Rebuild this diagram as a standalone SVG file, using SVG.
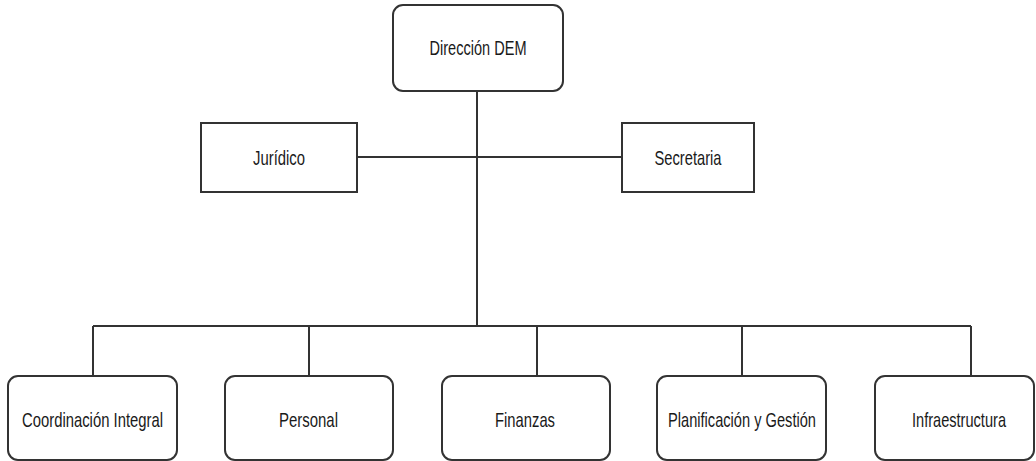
<svg xmlns="http://www.w3.org/2000/svg" width="1036" height="461" viewBox="0 0 1036 461">
<style>
.box{fill:#fff;stroke:#333;stroke-width:2}
.lbl{font-family:"Liberation Sans",Arial,sans-serif;font-size:21px;fill:#1a1a1a;text-anchor:middle}
.conn{fill:none;stroke:#333;stroke-width:2}
</style>
<rect width="1036" height="461" fill="#fff"/>
<g id="connectors">
<path class="conn" d="M477 91V326"/>
<path class="conn" d="M357 157H622"/>
<path class="conn" d="M93 326H971"/>
<path class="conn" d="M93 326V376M309 326V376M537 326V376M742 326V376M971 326V376"/>
</g>
<g id="direccion"><rect class="box" x="393" y="5" width="170" height="86" rx="10"/><text class="lbl" x="478" y="55" textLength="97" lengthAdjust="spacingAndGlyphs">Dirección DEM</text></g>
<g id="juridico"><rect class="box" x="201" y="123" width="156" height="69"/><text class="lbl" x="279" y="165" textLength="52" lengthAdjust="spacingAndGlyphs">Jurídico</text></g>
<g id="secretaria"><rect class="box" x="622" y="123" width="132" height="69"/><text class="lbl" x="688" y="165" textLength="67" lengthAdjust="spacingAndGlyphs">Secretaria</text></g>
<g id="coordinacion"><rect class="box" x="8" y="376" width="169" height="84" rx="10"/><text class="lbl" x="92.5" y="427" textLength="141" lengthAdjust="spacingAndGlyphs">Coordinación Integral</text></g>
<g id="personal"><rect class="box" x="225" y="376" width="168" height="84" rx="10"/><text class="lbl" x="308.5" y="427" textLength="59" lengthAdjust="spacingAndGlyphs">Personal</text></g>
<g id="finanzas"><rect class="box" x="442" y="376" width="168" height="84" rx="10"/><text class="lbl" x="525" y="427" textLength="60" lengthAdjust="spacingAndGlyphs">Finanzas</text></g>
<g id="planificacion"><rect class="box" x="657" y="376" width="169" height="84" rx="10"/><text class="lbl" x="742" y="427" textLength="148" lengthAdjust="spacingAndGlyphs">Planificación y Gestión</text></g>
<g id="infraestructura"><rect class="box" x="875" y="376" width="159" height="84" rx="10"/><text class="lbl" x="959" y="427" textLength="94" lengthAdjust="spacingAndGlyphs">Infraestructura</text></g>
</svg>
